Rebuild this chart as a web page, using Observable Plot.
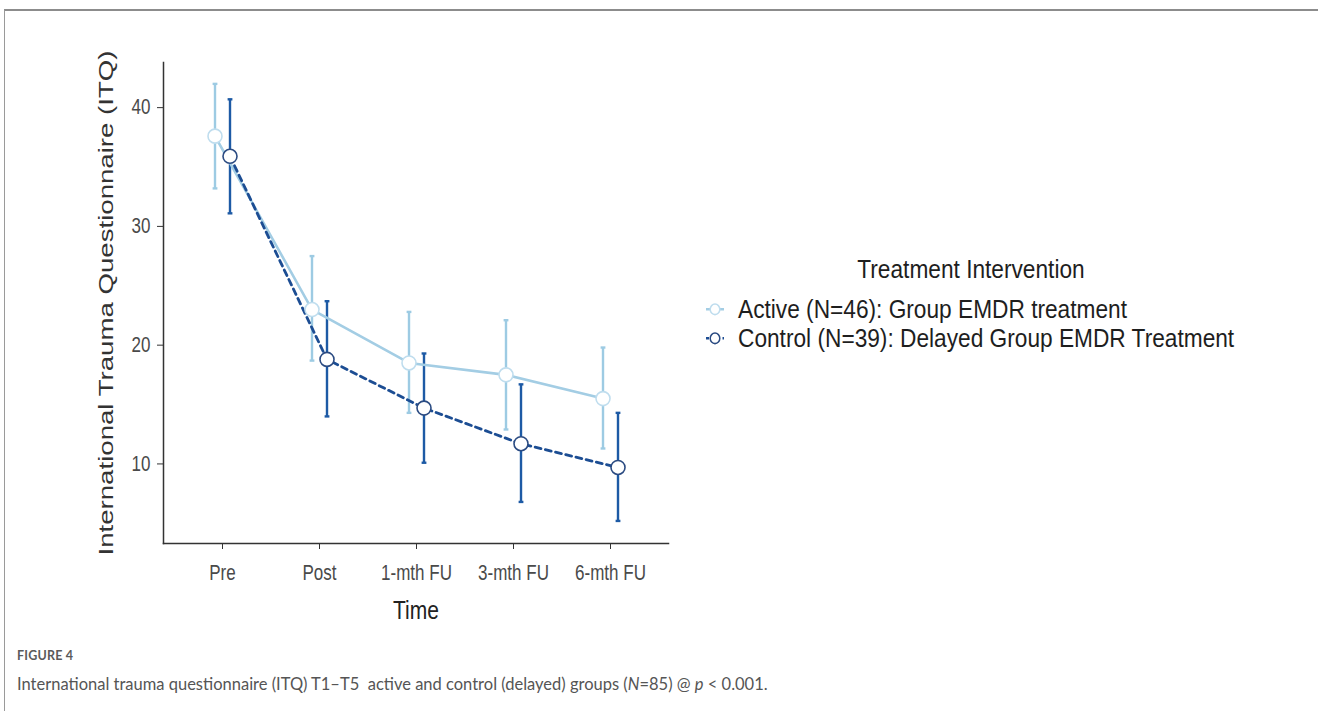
<!DOCTYPE html>
<html><head><meta charset="utf-8">
<script src="https://cdn.jsdelivr.net/npm/d3@7"></script>
<script src="https://cdn.jsdelivr.net/npm/@observablehq/plot@0.6"></script>
<style>
html,body{margin:0;padding:0;background:#fff;width:1318px;height:711px;overflow:hidden}
#wrap{position:relative;width:1318px;height:711px}
#frame{position:absolute;left:4px;top:9px;right:-4px;bottom:-4px;border-top:2px solid #8c8c8c;border-left:1.5px solid #9a9a9a}
#chart{position:absolute;left:0;top:0}
.lg{position:absolute;font-family:"Liberation Sans",Arial,Helvetica,sans-serif;font-size:22.7px;line-height:22.7px;color:#1e1e1e;white-space:nowrap;transform:scaleY(1.1);transform-origin:0 60%}
.lg svg{position:absolute;left:-38px;top:0}
#fig{position:absolute;left:17px;top:648px;font-family:Lato,"Open Sans",sans-serif;font-size:12.5px;font-weight:700;color:#5a5a5a;letter-spacing:0.2px}
#cap{position:absolute;left:17px;top:674px;font-family:Lato,"Open Sans",sans-serif;font-size:16.5px;color:#555;white-space:pre}
</style>
</head><body>
<div id="wrap">
  <div id="frame"></div>
  <div id="chart"></div>
  <div class="lg" id="lgTitle" style="left:700px;width:542px;text-align:center;top:258px"></div>
  <div class="lg" id="lg0" style="left:738px;top:298px"></div>
  <div class="lg" id="lg1" style="left:738px;top:327px"></div>
  <div id="fig">FIGURE 4</div>
  <div id="cap">International trauma questionnaire (ITQ) T1–T5  active and control (delayed) groups (<i>N</i>=85) @ <i>p</i> &lt; 0.001.</div>
</div>
<script>
// ---- data ----
const timepoints = ["Pre", "Post", "1-mth FU", "3-mth FU", "6-mth FU"];
const legendTitle = "Treatment Intervention";
const groupLabels = ["Active (N=46): Group EMDR treatment", "Control (N=39): Delayed Group EMDR Treatment"];
const activeMean = [37.6, 23.0, 18.5, 17.5, 15.5];
const activeLow  = [33.2, 18.7, 14.3, 12.9, 11.3];
const activeHigh = [42.0, 27.5, 22.8, 22.1, 19.8];
const controlMean = [35.9, 18.8, 14.7, 11.7, 9.7];
const controlLow  = [31.1, 14.0, 10.1, 6.8, 5.2];
const controlHigh = [40.7, 23.7, 19.3, 16.7, 14.3];
const yTicks = [10, 20, 30, 40];
const yDomain = [3.3, 43.8];
const yTitle = "International Trauma Questionnaire (ITQ)";
const xTitle = "Time";

// ---- build tables ----
const rows = (m, lo, hi, g) => timepoints.map((t, i) => ({time: t, group: g, mean: m[i], low: lo[i], high: hi[i]}));
const active = rows(activeMean, activeLow, activeHigh, groupLabels[0]);
const control = rows(controlMean, controlLow, controlHigh, groupLabels[1]);

const col = {
  activeBar: "#9dcbe3", activeLine: "#a3cde4", activeDot: "#bfddee",
  controlBar: "#1d5aa5", controlLine: "#1c4d93", controlDot: "#2b4b82"
};
const OFF = 7.5;
const capSymbol = {draw(ctx) { ctx.moveTo(-2.4, 0); ctx.lineTo(2.4, 0); }};

function bars(data, color, dx) {
  return [
    Plot.ruleX(data, {x: "time", y1: "low", y2: "high", stroke: color, strokeWidth: 2.4, dx}),
    Plot.dot(data, {x: "time", y: "low", symbol: capSymbol, r: 2, fill: "none", stroke: color, strokeWidth: 2.4, dx}),
    Plot.dot(data, {x: "time", y: "high", symbol: capSymbol, r: 2, fill: "none", stroke: color, strokeWidth: 2.4, dx})
  ];
}

const chart = Plot.plot({
  width: 700, height: 640,
  marginLeft: 163, marginRight: 32, marginTop: 62, marginBottom: 97,
  style: {fontFamily: "'Liberation Sans', Arial, Helvetica, sans-serif", background: "transparent", overflow: "visible"},
  x: {type: "point", domain: timepoints, padding: 0.6},
  y: {domain: yDomain},
  marks: [
    Plot.frame({anchor: "left", stroke: "#333", strokeWidth: 1.5}),
    Plot.frame({anchor: "bottom", stroke: "#333", strokeWidth: 1.5}),
    Plot.axisY({ticks: yTicks, tickSize: 6, tickPadding: 7, fontSize: 17, color: "#4a4a4a", stroke: "#333",
      label: yTitle, labelAnchor: "center", labelOffset: 64}),
    Plot.axisX({tickSize: 6, tickPadding: 15, fontSize: 17, color: "#4a4a4a", stroke: "#333",
      label: xTitle, labelAnchor: "center", labelOffset: 75}),
    ...bars(active, col.activeBar, -OFF),
    ...bars(control, col.controlBar, OFF),
    Plot.line(active, {x: "time", y: "mean", stroke: col.activeLine, strokeWidth: 2.6, dx: -OFF}),
    Plot.line(control, {x: "time", y: "mean", stroke: col.controlLine, strokeWidth: 2.8, strokeDasharray: "6,4.5", dx: OFF}),
    Plot.dot(active, {x: "time", y: "mean", r: 7, fill: "white", stroke: col.activeDot, strokeWidth: 1.6, dx: -OFF}),
    Plot.dot(control, {x: "time", y: "mean", r: 7, fill: "white", stroke: col.controlDot, strokeWidth: 1.6, dx: OFF})
  ]
});
document.getElementById("chart").appendChild(chart);

// text styling to echo the reference's taller glyphs
function stretch(sel, s) {
  chart.querySelectorAll(sel).forEach(t => {
    const tr = t.getAttribute("transform") || "";
    t.setAttribute("transform", tr + ` scale(1,${s})`);
  });
}
stretch('g[aria-label="x-axis tick label"] text', 1.25);
stretch('g[aria-label="y-axis tick label"] text', 1.25);
const xl = chart.querySelector('g[aria-label="x-axis label"] text');
if (xl) { xl.textContent = xTitle; xl.style.fontSize = "21px"; xl.setAttribute("fill", "#222"); }
stretch('g[aria-label="x-axis label"] text', 1.25);
const yl = chart.querySelector('g[aria-label="y-axis label"] text');
if (yl) {
  yl.textContent = yTitle;
  yl.style.fontSize = "19.5px"; yl.setAttribute("fill", "#333");
  yl.setAttribute("textLength", 505); yl.setAttribute("lengthAdjust", "spacingAndGlyphs");
}

// ---- legend ----
document.getElementById("lgTitle").textContent = legendTitle;
function key(id, label, line, dot, dash) {
  const d = document.getElementById(id);
  d.innerHTML = `<svg width="30" height="24" viewBox="0 0 30 24"><line x1="6" x2="24" y1="11.5" y2="11.5" stroke="${line}" stroke-width="2.2" ${dash ? 'stroke-dasharray="3,2.5"' : ''}/><circle cx="15" cy="11.5" r="4.8" fill="white" stroke="${dot}" stroke-width="1.5"/></svg>`;
  d.appendChild(document.createTextNode(label));
}
key("lg0", groupLabels[0], col.activeLine, col.activeDot, false);
key("lg1", groupLabels[1], col.controlLine, col.controlDot, true);
</script>
</body></html>
